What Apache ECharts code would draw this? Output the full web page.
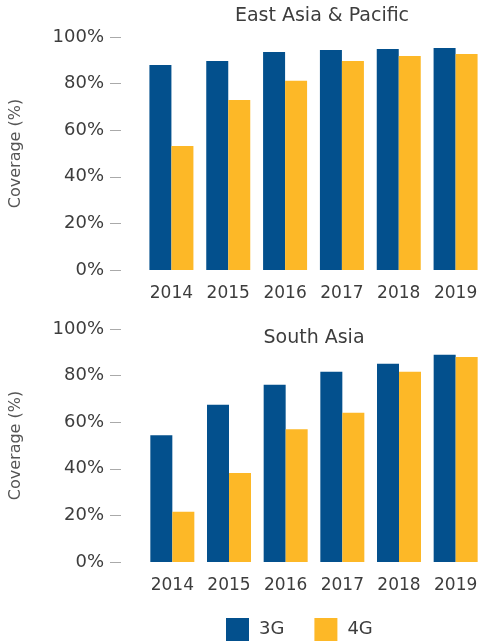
<!DOCTYPE html>
<html>
<head>
<meta charset="utf-8">
<script src="https://cdn.jsdelivr.net/npm/echarts@6/dist/echarts.min.js"></script>
<style>
  html, body { margin: 0; padding: 0; background: #fff; }
  #chart { width: 484px; height: 641px; }
</style>
</head>
<body>
<div id="chart"></div>
<script>
  var years = ['2014', '2015', '2016', '2017', '2018', '2019']
  var yTicks = [0, 20, 40, 60, 80, 100]
  // East Asia & Pacific
  var eap3G = [88, 89.7, 93.6, 94.4, 94.8, 95.3]
  var eap4G = [53.2, 73, 81.2, 89.7, 91.8, 92.7]
  // South Asia
  var sa3G = [54.4, 67.5, 76.1, 81.7, 85.1, 89]
  var sa4G = [21.6, 38.2, 57, 64.1, 81.7, 88]

  var blue = '#03508d'
  var yellow = '#fdb827'
  var textColor = '#3d3d3d'
  var font = 'DejaVu Sans'

  function yAxisFor (gridIndex, offset) {
    return {
      type: 'value',
      gridIndex: gridIndex,
      min: 0,
      max: 100,
      interval: 20,
      offset: offset,
      name: 'Coverage (%)',
      nameLocation: 'middle',
      nameGap: 97,
      nameTextStyle: { color: '#555', fontSize: 16, fontFamily: font },
      axisLine: { show: false },
      axisTick: { show: true, length: 11, lineStyle: { color: '#aaa' } },
      splitLine: { show: false },
      axisLabel: {
        color: textColor,
        fontSize: 18,
        fontFamily: font,
        margin: 17,
        formatter: function (v) { return yTicks.indexOf(v) >= 0 ? v + '%' : '' }
      }
    }
  }

  function xAxisFor (gridIndex) {
    return {
      type: 'category',
      gridIndex: gridIndex,
      data: years,
      axisLine: { show: false },
      axisTick: { show: false },
      axisLabel: { color: textColor, fontSize: 17, fontFamily: font, margin: 15 }
    }
  }

  function barSeries (name, color, data, idx) {
    return {
      name: name,
      type: 'bar',
      xAxisIndex: idx,
      yAxisIndex: idx,
      data: data,
      barWidth: 22,
      barGap: '0%',
      itemStyle: { color: color }
    }
  }

  var chart = echarts.init(document.getElementById('chart'))
  chart.setOption({
    animation: false,
    title: [
      {
        text: 'East Asia & Pacific',
        left: 317,
        top: 2,
        textAlign: 'center',
        textStyle: { color: textColor, fontSize: 19, fontWeight: 'normal', fontFamily: font }
      },
      {
        text: 'South Asia',
        left: 309,
        top: 324,
        textAlign: 'center',
        textStyle: { color: textColor, fontSize: 19, fontWeight: 'normal', fontFamily: font }
      }
    ],
    legend: {
      data: ['3G', '4G'],
      left: 221,
      top: 613,
      itemWidth: 23,
      itemHeight: 23,
      itemGap: 30,
      icon: 'rect',
      textStyle: { color: textColor, fontSize: 18, fontFamily: font, padding: [0, 0, 0, 5] }
    },
    grid: [
      { left: 141, top: 37, width: 348, height: 233 },
      { left: 137, top: 329, width: 349, height: 233 }
    ],
    xAxis: [xAxisFor(0), xAxisFor(1)],
    yAxis: [yAxisFor(0, 22), yAxisFor(1, 23)],
    series: [
      barSeries('3G', blue, eap3G, 0),
      barSeries('4G', yellow, eap4G, 0),
      barSeries('3G', blue, sa3G, 1),
      barSeries('4G', yellow, sa4G, 1)
    ]
  })
</script>
</body>
</html>
